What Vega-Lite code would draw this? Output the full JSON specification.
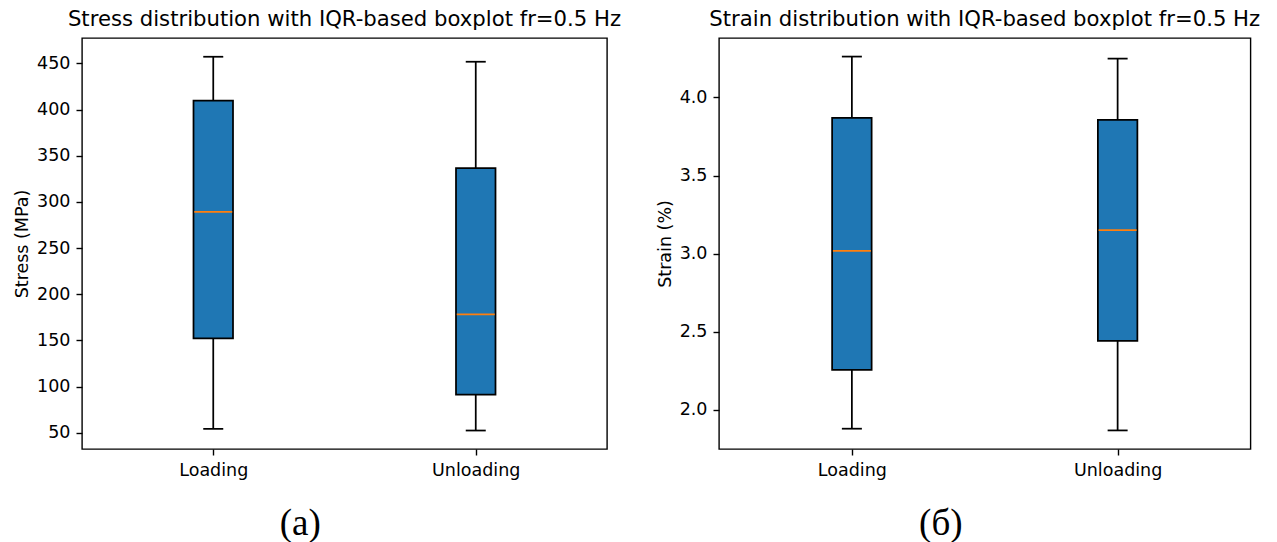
{
  "$schema": "https://vega.github.io/schema/vega-lite/v6.json",
  "background": "white",
  "padding": {"left": 12, "top": 8, "right": 5, "bottom": 0},
  "bounds": "flush",
  "spacing": 112,
  "datasets": {
    "stress": [
      {"cat": "Loading", "min": 54.3, "q1": 152.3, "median": 289.2, "q3": 409.6, "max": 457.1},
      {"cat": "Unloading", "min": 52.5, "q1": 91.4, "median": 178.2, "q3": 336.5, "max": 451.7}
    ],
    "strain": [
      {"cat": "Loading", "min": 1.879, "q1": 2.256, "median": 3.018, "q3": 3.870, "max": 4.262},
      {"cat": "Unloading", "min": 1.868, "q1": 2.441, "median": 3.150, "q3": 3.857, "max": 4.249}
    ]
  },
  "hconcat": [
    {
      "width": 525,
      "height": 411,
      "data": {"name": "stress"},
      "title": {"text": "Stress distribution with IQR-based boxplot fr=0.5 Hz", "font": "DejaVu Sans", "fontSize": 21.2, "fontWeight": "normal", "color": "black", "offset": 8, "anchor": "middle"},
      "encoding": {
        "x": {"field": "cat", "type": "nominal", "scale": {"type": "point", "padding": 0.5}, "sort": null,
          "axis": {"title": "(a)", "labelAngle": 0, "titleFont": "Liberation Serif", "titleFontSize": 37, "titleX": 217.7, "titleY": 85.7, "titleBaseline": "alphabetic", "titleAlign": "center", "titleAngle": 0}},
        "y": {"type": "quantitative", "scale": {"domain": [32.5, 477.4], "nice": false, "zero": false}, "axis": {"title": "Stress (MPa)", "values": [50, 100, 150, 200, 250, 300, 350, 400, 450]}}
      },
      "layer": [
        {"mark": {"type": "rule", "color": "black", "strokeWidth": 1.75},
         "encoding": {"y": {"field": "min", "type": "quantitative", "title": "Stress (MPa)"}, "y2": {"field": "max"}}},
        {"mark": {"type": "tick", "color": "black", "opacity": 1, "thickness": 1.75, "size": 20},
         "encoding": {"y": {"field": "min", "type": "quantitative", "title": "Stress (MPa)"}}},
        {"mark": {"type": "tick", "color": "black", "opacity": 1, "thickness": 1.75, "size": 20},
         "encoding": {"y": {"field": "max", "type": "quantitative", "title": "Stress (MPa)"}}},
        {"mark": {"type": "bar", "fill": "#1f77b4", "stroke": "black", "strokeWidth": 1.75, "size": 39.5},
         "encoding": {"y": {"field": "q1", "type": "quantitative", "title": "Stress (MPa)"}, "y2": {"field": "q3"}}},
        {"mark": {"type": "tick", "color": "#ff7f0e", "opacity": 1, "thickness": 1.75, "size": 38},
         "encoding": {"y": {"field": "median", "type": "quantitative", "title": "Stress (MPa)"}}}
      ]
    },
    {
      "width": 531.5,
      "height": 411,
      "data": {"name": "strain"},
      "title": {"text": "Strain distribution with IQR-based boxplot fr=0.5 Hz", "font": "DejaVu Sans", "fontSize": 21.2, "fontWeight": "normal", "color": "black", "offset": 8, "anchor": "middle"},
      "encoding": {
        "x": {"field": "cat", "type": "nominal", "scale": {"type": "point", "padding": 0.5}, "sort": null,
          "axis": {"title": "(б)", "labelAngle": 0, "titleFont": "Liberation Serif", "titleFontSize": 37, "titleX": 221.3, "titleY": 85.7, "titleBaseline": "alphabetic", "titleAlign": "center", "titleAngle": 0}},
        "y": {"type": "quantitative", "scale": {"domain": [1.749, 4.381], "nice": false, "zero": false}, "axis": {"title": "Strain (%)", "values": [2.0, 2.5, 3.0, 3.5, 4.0], "format": ".1f"}}
      },
      "layer": [
        {"mark": {"type": "rule", "color": "black", "strokeWidth": 1.75},
         "encoding": {"y": {"field": "min", "type": "quantitative", "title": "Strain (%)"}, "y2": {"field": "max"}}},
        {"mark": {"type": "tick", "color": "black", "opacity": 1, "thickness": 1.75, "size": 20},
         "encoding": {"y": {"field": "min", "type": "quantitative", "title": "Strain (%)"}}},
        {"mark": {"type": "tick", "color": "black", "opacity": 1, "thickness": 1.75, "size": 20},
         "encoding": {"y": {"field": "max", "type": "quantitative", "title": "Strain (%)"}}},
        {"mark": {"type": "bar", "fill": "#1f77b4", "stroke": "black", "strokeWidth": 1.75, "size": 39.5},
         "encoding": {"y": {"field": "q1", "type": "quantitative", "title": "Strain (%)"}, "y2": {"field": "q3"}}},
        {"mark": {"type": "tick", "color": "#ff7f0e", "opacity": 1, "thickness": 1.75, "size": 38},
         "encoding": {"y": {"field": "median", "type": "quantitative", "title": "Strain (%)"}}}
      ]
    }
  ],
  "config": {
    "view": {"stroke": "black", "strokeWidth": 1.4},
    "axis": {"labelFont": "DejaVu Sans", "labelFontSize": 17.5, "labelColor": "black", "titleFont": "DejaVu Sans", "titleFontSize": 17.5, "titleColor": "black", "titleFontWeight": "normal", "tickColor": "black", "tickWidth": 1.4, "tickSize": 6, "labelPadding": 6, "domain": false, "grid": false, "titlePadding": 5}
  }
}
